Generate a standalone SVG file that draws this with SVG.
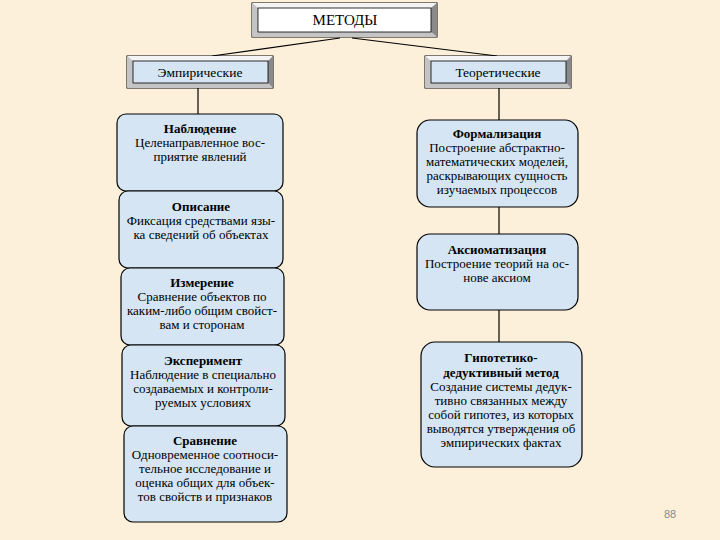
<svg xmlns="http://www.w3.org/2000/svg" width="720" height="540" viewBox="0 0 720 540">
<style>
.bg{fill:#fcf0db}
.box{fill:#d5e5f3;stroke:#000;stroke-width:1.2}
.t{font-family:"Liberation Serif","Times New Roman",serif;font-size:13px;fill:#000;text-anchor:middle}
.b{font-weight:bold}
.ln{stroke:#000;stroke-width:1.2;fill:none}
.hl{fill:#f4f4f4}
.sh{fill:#8a8a8a}
.md{fill:#c4c4c4}
</style>
<rect class="bg" x="0" y="0" width="720" height="540"/>
<g id="connectors">
<line class="ln" x1="340" y1="38" x2="212" y2="56"/>
<line class="ln" x1="352" y1="38" x2="497" y2="56"/>
<line class="ln" x1="198" y1="88" x2="198" y2="114"/>
<line class="ln" x1="499" y1="88" x2="499" y2="120"/>
<line class="ln" x1="499" y1="207" x2="499" y2="234"/>
<line class="ln" x1="499" y1="310" x2="499" y2="342"/>
</g>
<g id="metody">
<rect x="252" y="3" width="185" height="34" fill="#ddd" stroke="#000" stroke-width="1"/>
<polygon class="hl" points="252,3 437,3 431,8 258,8"/>
<polygon class="md" points="252,3 258,8 258,32 252,37"/>
<polygon class="sh" points="437,3 437,37 431,32 431,8"/>
<polygon class="md" points="252,37 258,32 431,32 437,37"/>
<rect x="258" y="8" width="173" height="24" fill="#fff" stroke="#000" stroke-width="0.8"/>
<text class="t" x="345" y="25" style="font-size:15px">МЕТОДЫ</text>
</g>
<g id="empiric">
<rect x="127" y="56" width="146" height="32" fill="#ddd" stroke="#000" stroke-width="1"/>
<polygon class="hl" points="127,56 273,56 268,61 133,61"/>
<polygon class="md" points="127,56 133,61 133,83 127,88"/>
<polygon class="sh" points="273,56 273,88 268,83 268,61"/>
<polygon class="md" points="127,88 133,83 268,83 273,88"/>
<rect x="133" y="61" width="135" height="22" fill="#d5e5f3" stroke="#000" stroke-width="0.8"/>
<text class="t" x="200" y="77" style="font-size:13.5px">Эмпирические</text>
</g>
<g id="theoretic">
<rect x="425" y="56" width="146" height="32" fill="#ddd" stroke="#000" stroke-width="1"/>
<polygon class="hl" points="425,56 571,56 566,61 431,61"/>
<polygon class="md" points="425,56 431,61 431,83 425,88"/>
<polygon class="sh" points="571,56 571,88 566,83 566,61"/>
<polygon class="md" points="425,88 431,83 566,83 571,88"/>
<rect x="431" y="61" width="135" height="22" fill="#d5e5f3" stroke="#000" stroke-width="0.8"/>
<text class="t" x="498" y="77" style="font-size:13.5px">Теоретические</text>
</g>
<g id="nabl">
<rect class="box" x="117" y="114" width="166" height="77" rx="9"/>
<text class="t b" x="200" y="133">Наблюдение</text>
<text class="t" x="200" y="147">Целенаправленное вос-</text>
<text class="t" x="200" y="161">приятие явлений</text>
</g>
<g id="opis">
<rect class="box" x="119" y="191" width="164" height="77" rx="9"/>
<text class="t b" x="201" y="211">Описание</text>
<text class="t" x="201" y="225">Фиксация средствами язы-</text>
<text class="t" x="201" y="239">ка сведений об объектах</text>
</g>
<g id="izmer">
<rect class="box" x="121" y="268" width="163" height="77" rx="9"/>
<text class="t b" x="202" y="287">Измерение</text>
<text class="t" x="202" y="301">Сравнение объектов по</text>
<text class="t" x="202" y="315">каким-либо общим свойст-</text>
<text class="t" x="202" y="329">вам и сторонам</text>
</g>
<g id="exper">
<rect class="box" x="122" y="345" width="163" height="81" rx="9"/>
<text class="t b" x="203" y="365">Эксперимент</text>
<text class="t" x="203" y="379">Наблюдение в специально</text>
<text class="t" x="203" y="393">создаваемых и контроли-</text>
<text class="t" x="203" y="407">руемых условиях</text>
</g>
<g id="sravn">
<rect class="box" x="124" y="426" width="163" height="96" rx="9"/>
<text class="t b" x="205" y="445">Сравнение</text>
<text class="t" x="205" y="459">Одновременное соотноси-</text>
<text class="t" x="205" y="473">тельное исследование и</text>
<text class="t" x="205" y="487">оценка общих для объек-</text>
<text class="t" x="205" y="501">тов свойств и признаков</text>
</g>
<g id="formal">
<rect class="box" x="417" y="120" width="161" height="87" rx="13"/>
<text class="t b" x="497" y="138">Формализация</text>
<text class="t" x="497" y="152">Построение абстрактно-</text>
<text class="t" x="497" y="166">математических моделей,</text>
<text class="t" x="497" y="180">раскрывающих сущность</text>
<text class="t" x="497" y="194">изучаемых процессов</text>
</g>
<g id="axiom">
<rect class="box" x="417" y="234" width="161" height="76" rx="13"/>
<text class="t b" x="497" y="254">Аксиоматизация</text>
<text class="t" x="497" y="268">Построение теорий на ос-</text>
<text class="t" x="497" y="282">нове аксиом</text>
</g>
<g id="hypo">
<rect class="box" x="421" y="342" width="161" height="125" rx="14"/>
<text class="t b" x="501" y="362">Гипотетико-</text>
<text class="t b" x="501" y="377">дедуктивный метод</text>
<text class="t" x="501" y="391">Создание системы дедук-</text>
<text class="t" x="501" y="405">тивно связанных между</text>
<text class="t" x="501" y="419">собой гипотез, из которых</text>
<text class="t" x="501" y="433">выводятся утверждения об</text>
<text class="t" x="501" y="447">эмпирических фактах</text>
</g>
<text x="670" y="518" style="font-family:'Liberation Sans',Arial,sans-serif;font-size:11px;fill:#8a8a8a" text-anchor="middle">88</text>
</svg>
